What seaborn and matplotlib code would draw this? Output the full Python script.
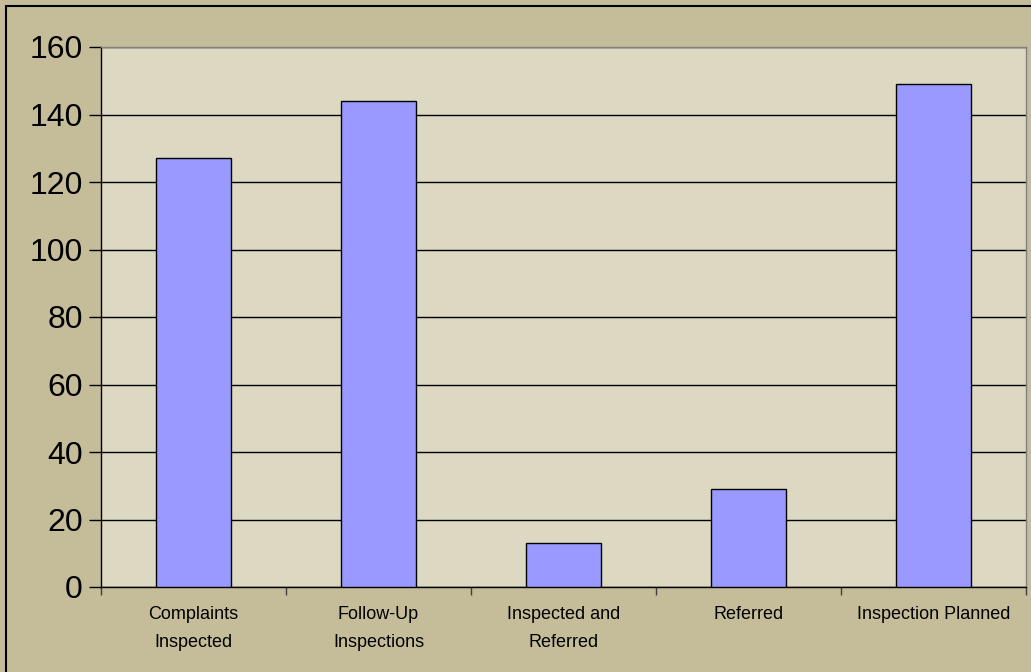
import matplotlib
matplotlib.use("Agg")
import matplotlib.pyplot as plt
import matplotlib.patches as patches
import seaborn as sns
import numpy as np

categories = ["Complaints\nInspected", "Follow-Up\nInspections", "Inspected and\nReferred",
              "Referred", "Inspection Planned"]
values = [127, 144, 13, 29, 149]
y_ticks = [0, 20, 40, 60, 80, 100, 120, 140, 160]

outer_bg = "#C5BD99"
plot_bg = "#DDD8C2"
bar_color = "#9999FF"

sns.set_theme(style="white")
plt.rcParams['font.family'] = ['Liberation Sans', 'DejaVu Sans']
plt.rcParams['text.color'] = 'black'
plt.rcParams['xtick.color'] = 'black'
plt.rcParams['ytick.color'] = 'black'

fig = plt.figure(figsize=(10.31, 6.72), dpi=100, facecolor=outer_bg)
ax = fig.add_axes([101 / 1031, 85 / 672, 925 / 1031, 540 / 672])
ax.set_facecolor(plot_bg)

sns.barplot(x=categories, y=values, color=bar_color, saturation=1,
            edgecolor="black", linewidth=1, width=0.41, ax=ax, zorder=3)

ax.set_ylim(0, 160)
ax.set_xlim(-0.5, len(categories) - 0.5)
ax.set_yticks(y_ticks)
ax.yaxis.grid(True, color="black", linewidth=1, zorder=0)
ax.set_axisbelow(True)

# category boundary ticks on x, labels centered without ticks
ax.set_xticks(range(len(categories)))
ax.set_xticklabels(categories, linespacing=1.8)
ax.set_xticks(np.arange(-0.5, len(categories), 1.0), minor=True)
ax.tick_params(axis="x", which="minor", direction="out", length=6, width=1,
               color="#404040", bottom=True)
ax.tick_params(axis="x", which="major", length=0, pad=14, labelsize=13,
               labelcolor="black")
ax.tick_params(axis="y", which="major", direction="out", length=9, width=1,
               color="black", left=True, pad=4, labelsize=23, labelcolor="black")

for side in ["left", "bottom"]:
    ax.spines[side].set_color("black")
    ax.spines[side].set_linewidth(1)
for side in ["top", "right"]:
    ax.spines[side].set_color("#808080")
    ax.spines[side].set_linewidth(1)

ax.set_xlabel("")
ax.set_ylabel("")

# outer chart border
fig.patches.append(patches.Rectangle((6 / 1031, -0.1), 1.2, 1.1 - 6 / 672,
                                     transform=fig.transFigure, fill=False,
                                     edgecolor="black", linewidth=1.5))

fig.savefig("out.png", dpi=100, facecolor=outer_bg)
